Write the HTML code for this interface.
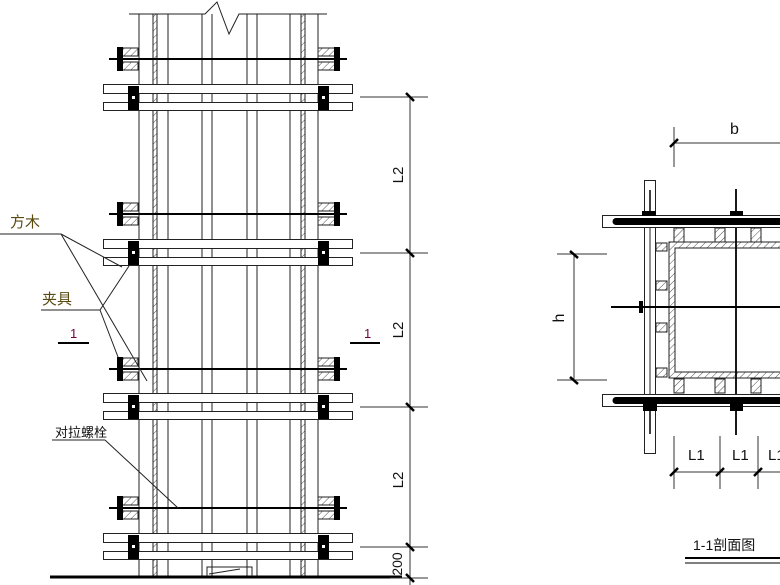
<!DOCTYPE html>
<html><head><meta charset="utf-8"><style>
html,body{margin:0;padding:0;background:#fff;width:780px;height:585px;overflow:hidden}
svg{display:block}
text{font-family:"Liberation Sans","Noto Sans CJK SC",sans-serif;fill:#111}
</style></head><body>
<svg width="780" height="585" viewBox="0 0 780 585" xmlns="http://www.w3.org/2000/svg">
<defs>
<pattern id="h" width="5" height="5" patternUnits="userSpaceOnUse" patternTransform="rotate(45)">
<rect width="5" height="5" fill="#fff"/><line x1="0" y1="0" x2="0" y2="5" stroke="#222" stroke-width="0.8"/></pattern>
<g id="bolt">
<line x1="109" y1="0" x2="347" y2="0" stroke="#000" stroke-width="2"/>
<rect x="118" y="-11" width="20" height="8" fill="url(#h)" stroke="#222"/>
<rect x="118" y="3" width="20" height="8" fill="url(#h)" stroke="#222"/>
<rect x="117" y="-12" width="6" height="24" fill="#000"/>
<rect x="318" y="-11" width="20" height="8" fill="url(#h)" stroke="#222"/>
<rect x="318" y="3" width="20" height="8" fill="url(#h)" stroke="#222"/>
<rect x="334" y="-12" width="6" height="24" fill="#000"/>
</g>
<g id="wal">
<rect x="103.5" y="0.5" width="249" height="9" fill="#fff" stroke="#222"/>
<rect x="103.5" y="18.5" width="249" height="8" fill="#fff" stroke="#222"/>
<rect x="128" y="2" width="11" height="24" fill="#000"/>
<rect x="318" y="2" width="11" height="24" fill="#000"/>
<rect x="132" y="12" width="3" height="3" fill="#fff"/>
<rect x="322" y="12" width="3" height="3" fill="#fff"/>
</g>
</defs>
<g stroke="#222" stroke-width="1" fill="none">
<!-- top break line -->
<polyline points="129,14 205,14 217,2 229,34 239,14 327,14"/>
<line x1="139" y1="14" x2="139" y2="577"/>
<line x1="168" y1="14" x2="168" y2="577"/>
<line x1="202" y1="14" x2="202" y2="577"/>
<line x1="212" y1="14" x2="212" y2="577"/>
<line x1="247" y1="14" x2="247" y2="577"/>
<line x1="257" y1="14" x2="257" y2="577"/>
<line x1="290" y1="14" x2="290" y2="577"/>
<line x1="318" y1="14" x2="318" y2="577"/>
</g>
<rect x="153" y="14" width="4" height="563" fill="url(#h)" stroke="#222"/>
<rect x="301" y="14" width="4" height="563" fill="url(#h)" stroke="#222"/>
<use href="#bolt" y="59"/><use href="#bolt" y="214"/><use href="#bolt" y="369"/><use href="#bolt" y="508"/>
<use href="#wal" y="84"/><use href="#wal" y="239"/><use href="#wal" y="393"/><use href="#wal" y="533"/>
<line x1="50" y1="577" x2="402" y2="577" stroke="#000" stroke-width="3"/>
<polyline points="207,576 207,567 252,567 252,576" fill="none" stroke="#222"/>
<line x1="209" y1="574" x2="240" y2="569" stroke="#222"/>
<!-- dimensions left -->
<g stroke="#333" stroke-width="1">
<line x1="410" y1="97" x2="410" y2="585"/>
<line x1="360" y1="97" x2="428" y2="97"/>
<line x1="360" y1="253" x2="428" y2="253"/>
<line x1="360" y1="407" x2="428" y2="407"/>
<line x1="360" y1="547" x2="428" y2="547"/>
<line x1="390" y1="578" x2="428" y2="578"/>
</g>
<g stroke="#000" stroke-width="2.5">
<line x1="406" y1="93" x2="414" y2="101"/><line x1="406" y1="249" x2="414" y2="257"/>
<line x1="406" y1="403" x2="414" y2="411"/><line x1="406" y1="543" x2="414" y2="551"/>
<line x1="406" y1="574" x2="414" y2="582"/>
</g>
<g font-size="15">
<text transform="translate(403,175) rotate(-90)" text-anchor="middle">L2</text>
<text transform="translate(403,330) rotate(-90)" text-anchor="middle">L2</text>
<text transform="translate(403,480) rotate(-90)" text-anchor="middle">L2</text>
<text transform="translate(402,564) rotate(-90)" text-anchor="middle" font-size="14">200</text>
</g>
<!-- labels left -->
<g stroke="#222" fill="none" stroke-width="1">
<line x1="0" y1="234" x2="61" y2="234"/>
<line x1="61" y1="234" x2="122" y2="267"/>
<line x1="61" y1="234" x2="147" y2="381"/>
<line x1="41" y1="310" x2="100" y2="310"/>
<line x1="100" y1="310" x2="129" y2="266"/>
<line x1="100" y1="310" x2="118" y2="357"/>
<line x1="52" y1="440" x2="105" y2="440"/>
<line x1="105" y1="440" x2="178" y2="508"/>
</g>
<line x1="58" y1="343" x2="89" y2="343" stroke="#000" stroke-width="2"/>
<line x1="350" y1="343" x2="380" y2="343" stroke="#000" stroke-width="2"/>
<text x="10" y="227" font-size="15" style="fill:#5a4a10">方木</text>
<text x="42" y="304" font-size="15" style="fill:#5a4a10">夹具</text>
<text x="70" y="338" font-size="13" style="fill:#700040">1</text>
<text x="364" y="338" font-size="13" style="fill:#700040">1</text>
<text x="55" y="437" font-size="13">对拉螺栓</text>
<!-- right section -->
<g stroke="#333" stroke-width="1" fill="none">
<line x1="674" y1="127" x2="674" y2="167"/>
<line x1="674" y1="143" x2="780" y2="143"/>
<line x1="557" y1="254" x2="607" y2="254"/>
<line x1="557" y1="380" x2="607" y2="380"/>
<line x1="574" y1="254" x2="574" y2="380"/>
<line x1="674" y1="436" x2="674" y2="489"/>
<line x1="720" y1="436" x2="720" y2="489"/>
<line x1="758" y1="436" x2="758" y2="489"/>
<line x1="674" y1="472" x2="780" y2="472"/>
</g>
<g stroke="#000" stroke-width="2.5">
<line x1="670" y1="147" x2="678" y2="139"/>
<line x1="570" y1="251" x2="578" y2="258"/><line x1="570" y1="377" x2="578" y2="384"/>
<line x1="670" y1="476" x2="678" y2="468"/><line x1="716" y1="476" x2="724" y2="468"/><line x1="754" y1="476" x2="762" y2="468"/>
</g>
<text x="730" y="134" font-size="16">b</text>
<text transform="translate(564,318) rotate(-90)" text-anchor="middle" font-size="16">h</text>
<text x="688" y="460" font-size="15">L1</text>
<text x="732" y="460" font-size="15">L1</text>
<text x="768" y="460" font-size="15">L1</text>
<!-- plate -->
<rect x="644.5" y="180.5" width="11" height="273" fill="#fff" stroke="#222"/>
<line x1="650" y1="190" x2="650" y2="213" stroke="#000" stroke-width="1.5"/>
<line x1="650" y1="228" x2="650" y2="394" stroke="#222"/>
<line x1="650" y1="408" x2="650" y2="434" stroke="#000" stroke-width="1.5"/>
<!-- column -->
<rect x="669" y="242" width="120" height="136" fill="url(#h)" stroke="#222"/>
<rect x="675" y="248" width="120" height="124" fill="#fff" stroke="#222"/>
<g fill="url(#h)" stroke="#222">
<rect x="674" y="228" width="10" height="14"/><rect x="715" y="228" width="10" height="14"/><rect x="751" y="228" width="10" height="14"/>
<rect x="674" y="379" width="10" height="14"/><rect x="715" y="379" width="10" height="14"/><rect x="751" y="379" width="10" height="14"/>
<rect x="656" y="243" width="11" height="8"/><rect x="656" y="281" width="11" height="9"/><rect x="656" y="323" width="11" height="9"/><rect x="656" y="368" width="11" height="9"/>
</g>
<line x1="736" y1="189" x2="736" y2="435" stroke="#000" stroke-width="1.8"/>
<line x1="611" y1="307" x2="780" y2="307" stroke="#000" stroke-width="2"/>
<rect x="639" y="301" width="4" height="12" fill="#000"/>
<!-- bars -->
<rect x="602.5" y="215.5" width="190" height="12" fill="#fff" stroke="#222"/>
<rect x="602.5" y="394.5" width="190" height="12" fill="#fff" stroke="#222"/>
<line x1="616" y1="221.5" x2="790" y2="221.5" stroke="#000" stroke-width="7" stroke-linecap="round"/>
<line x1="616" y1="400.5" x2="790" y2="400.5" stroke="#000" stroke-width="7" stroke-linecap="round"/>
<rect x="642" y="211" width="14" height="5" fill="#000"/>
<rect x="730" y="211" width="13" height="5" fill="#000"/>
<rect x="643" y="404" width="14" height="7" fill="#000"/>
<rect x="730" y="404" width="13" height="7" fill="#000"/>
<text x="693" y="550" font-size="14">1-1剖面图</text>
<line x1="685" y1="558" x2="780" y2="558" stroke="#000" stroke-width="2"/>
<line x1="685" y1="563" x2="780" y2="563" stroke="#000" stroke-width="1"/>
</svg>
</body></html>
